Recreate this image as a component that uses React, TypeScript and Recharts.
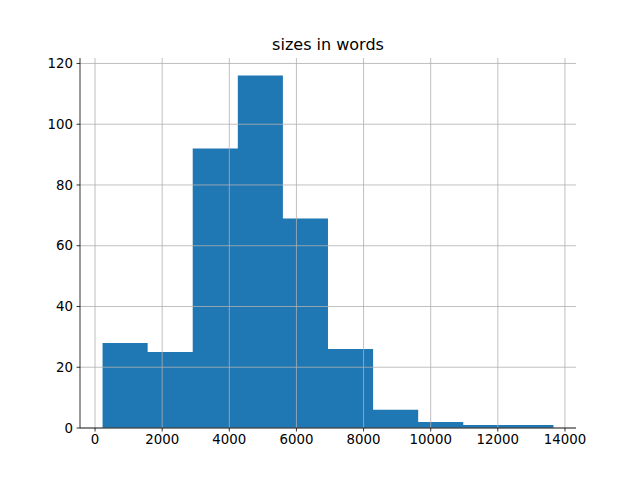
import { ComposedChart, Area, XAxis, YAxis, ReferenceLine } from 'recharts';

// histogram of document sizes, 10 bins
const binEdges = [224, 1567, 2910, 4254, 5597, 6940, 8284, 9627, 10970, 12314, 13657];
const counts = [28, 25, 92, 116, 69, 26, 6, 2, 1, 1];
const xTicks = [0, 2000, 4000, 6000, 8000, 10000, 12000, 14000];
const yTicks = [0, 20, 40, 60, 80, 100, 120];

const font = 'DejaVu Sans, sans-serif';
const gridColor = '#b0b0b0';

export default function App() {
  // step points: each edge carries the count of the bin starting there, last edge closes the final bin
  const data = binEdges.map((edge, i) => ({
    x: edge,
    count: counts[Math.min(i, counts.length - 1)],
  }));

  const tickStyle = { fontSize: 13.33, fill: '#000', fontFamily: font };

  return (
    <div style={{ position: 'fixed', left: 0, top: 0, width: 640, height: 480, background: '#fff' }}>
      <ComposedChart
        width={640}
        height={480}
        data={data}
        margin={{ top: 58, right: 64, bottom: 0, left: 0 }}
      >
        <Area
          type="stepAfter"
          dataKey="count"
          stroke="none"
          fill="#1f77b4"
          fillOpacity={1}
          baseValue={0}
          isAnimationActive={false}
        />
        {/* grid drawn over the bars, like matplotlib */}
        {xTicks.map((t) => (
          <ReferenceLine key={`gx${t}`} x={t} stroke={gridColor} strokeWidth={0.8} zIndex={500} />
        ))}
        {yTicks.map((t) => (
          <ReferenceLine key={`gy${t}`} y={t} stroke={gridColor} strokeWidth={0.8} zIndex={500} />
        ))}
        <XAxis
          dataKey="x"
          type="number"
          domain={[-448, 14329]}
          allowDataOverflow
          ticks={xTicks}
          height={52}
          tickSize={3.5}
          tickMargin={3.5}
          tick={tickStyle}
          stroke="#000"
          strokeWidth={0.8}
        />
        <YAxis
          type="number"
          domain={[0, 121.8]}
          allowDataOverflow
          ticks={yTicks}
          width={80}
          tickSize={3.5}
          tickMargin={3.5}
          tick={tickStyle}
          stroke="#000"
          strokeWidth={0.8}
        />
        <XAxis
          xAxisId="top"
          orientation="top"
          type="number"
          domain={[-448, 14329]}
          height={0}
          tick={false}
          tickLine={false}
          stroke="#000"
          strokeWidth={0.8}
        />
        <YAxis
          yAxisId="right"
          orientation="right"
          type="number"
          domain={[0, 121.8]}
          width={0}
          tick={false}
          tickLine={false}
          stroke="#000"
          strokeWidth={0.8}
        />
      </ComposedChart>
      <svg width={640} height={60} style={{ position: 'absolute', left: 0, top: 0 }}>
        <text x={328} y={50} textAnchor="middle" fontSize={16} fontFamily={font} fill="#000">
          sizes in words
        </text>
      </svg>
    </div>
  );
}
